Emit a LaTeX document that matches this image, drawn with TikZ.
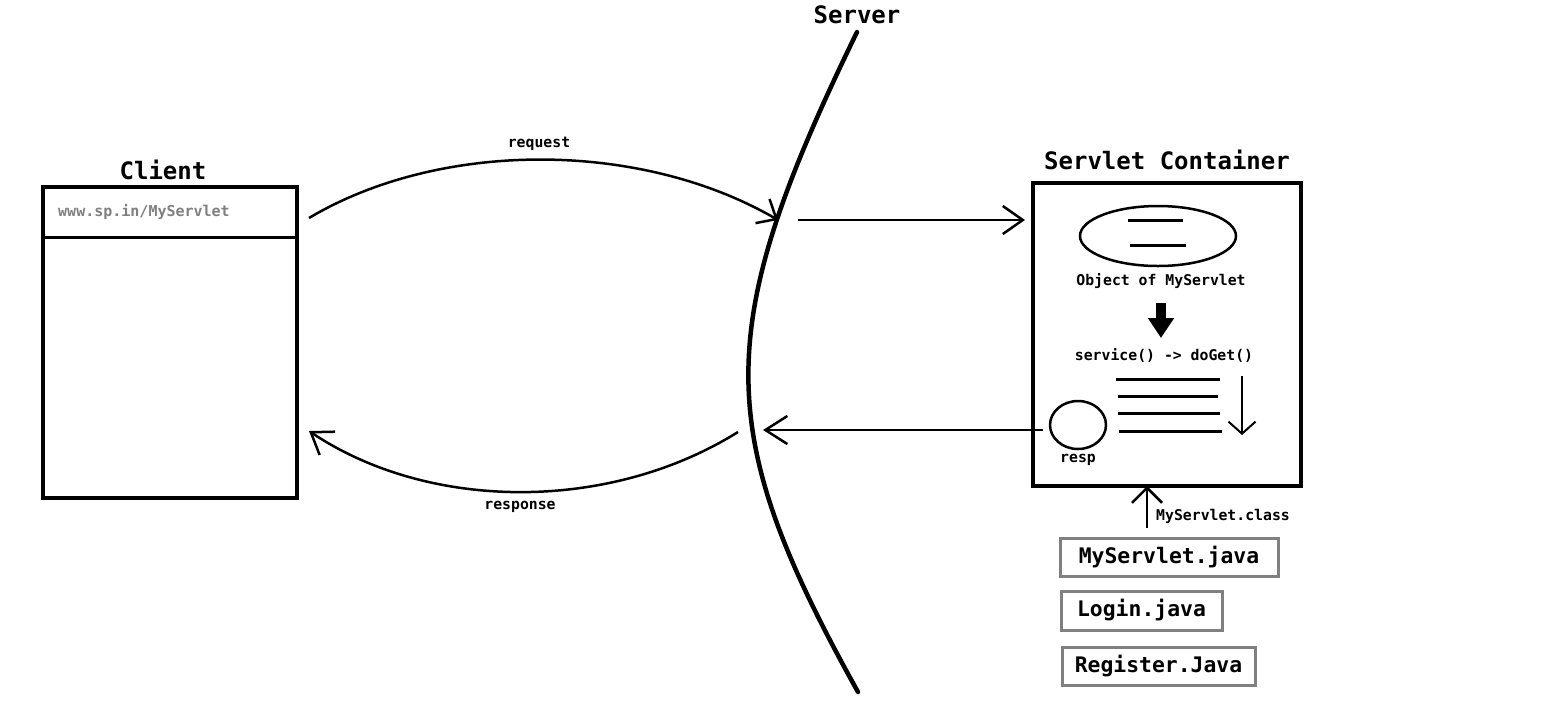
\documentclass[tikz,border=0pt]{standalone}
\usepackage{fontspec}
\setmonofont{DejaVu Sans Mono}
\usetikzlibrary{arrows.meta,shapes.geometric}
\tikzset{
  heading/.style={font=\ttfamily\bfseries\fontsize{24}{28}\selectfont, inner sep=0pt},
  small/.style={font=\ttfamily\bfseries\fontsize{14.8}{17}\selectfont, inner sep=0pt},
  filebox/.style={draw=black!50, line width=3pt, anchor=north west, inner sep=0pt, outer sep=0pt,
    font=\ttfamily\bfseries\fontsize{21.4}{25}\selectfont},
  barb/.style={-{Straight Barb[length=20pt,width=28pt]}, line width=2.5pt},
}

\begin{document}
\begin{tikzpicture}[x=1pt, y=-1pt]
			%%%%% START %%%%%
			\useasboundingbox (0,0) rectangle (1550,724);
			
			% client
			\node[heading] (clientlbl) at (163,170) {Client};
			\node[draw, line width=4pt, outer sep=0pt, anchor=north west, minimum width=254pt, minimum height=311pt] (client) at (43,187) {};
			\draw[line width=3pt] (client.west |- 0,237) -- (client.east |- 0,237);
			\node[small, text=black!50, anchor=west, font=\ttfamily\bfseries\fontsize{15}{17}\selectfont] (url) at (58,212) {www.sp.in/MyServlet};
			
			% server
			\node[heading] (serverlbl) at (857,15) {Server};
			\coordinate (srvtop) at (857,32);
			\coordinate (srvbot) at (858,692);
			\draw[line width=4.5pt, line cap=round] (srvtop) .. controls (712,330) and (712,430) .. (srvbot);
			
			% request
			\coordinate (reqstart) at (309,218);
			\coordinate (reqend) at (778,220);
			\node[small] (reqlbl) at (539,144) {request};
			\draw[barb, -{Straight Barb[length=16pt,width=28pt]}] (reqstart) .. controls (440,140) and (640,140) .. (reqend);
			
			% container
			\node[heading] (contlbl) at (1167,160) {Servlet Container};
			\node[draw, line width=4.5pt, outer sep=0pt, anchor=north west, minimum width=268pt, minimum height=303pt] (container) at (1033,183) {};
			\coordinate (fwd) at (798,220);
			\draw[barb, shorten >=8pt] (fwd) -- (fwd -| container.west);
			
			\node[draw, ellipse, line width=2.5pt, minimum width=156pt, minimum height=60pt] (obj) at (1158,236) {};
			\draw[line width=3pt] (1128,220) -- (1183,220);
			\draw[line width=3pt] (1130,245) -- (1186,245);
			\node[small] (objlbl) at (1161,281) {Object of MyServlet};
			
			\coordinate (fattop) at (1161,303);
			\coordinate (fatbot) at (1161,338);
			\draw[line width=10pt, -{Triangle[length=20pt,width=25pt]}] (fattop) -- (fatbot);
			
			\node[small] (svclbl) at (1164,355) {service() -> doGet()};
			\draw[line width=3pt] (1116,379) -- (1220,379);
			\draw[line width=3pt] (1118,396) -- (1218,396);
			\draw[line width=3pt] (1118,413) -- (1220,413);
			\draw[line width=3pt] (1119,431) -- (1222,431);
			\coordinate (flowtop) at (1242,376);
			\coordinate (flowbot) at (1242,435);
			\draw[line width=2pt, -{Straight Barb[length=12pt,width=27pt]}] (flowtop) -- (flowbot);
			
			\node[draw, ellipse, line width=2.5pt, minimum width=56pt, minimum height=48pt] (resp) at (1078,425) {};
			\node[small] (resplbl) at (1078,460) {resp};
			
			% response
			\coordinate (srvin) at (763,430);
			\draw[barb, -{Straight Barb[length=22pt,width=28pt]}, shorten <=6pt] (resp.west |- srvin) -- (srvin);
			\coordinate (respstart) at (738,432);
			\coordinate (respend) at (309,431);
			\node[small] (resplbl2) at (520,507) {response};
			\draw[barb] (respstart) .. controls (610,512) and (430,512) .. (respend);
			
			% source files
			\coordinate (srcup) at (1147,528);
			\draw[line width=2.5pt, -{Straight Barb[length=15pt,width=30pt]}] (srcup) -- (srcup |- container.south);
			\node[small, anchor=west] (classlbl) at (1156,516) {MyServlet.class};
			\node[filebox, minimum width=218pt, minimum height=38pt] (msj) at (1060,538) {MyServlet.java};
			\node[filebox, minimum width=161pt, minimum height=39pt] (lgj) at (1061,591) {Login.java};
			\node[filebox, minimum width=193pt, minimum height=38pt] (rgj) at (1062,647) {Register.Java};
			
			%%%%% END %%%%%
\end{tikzpicture}
\end{document}
